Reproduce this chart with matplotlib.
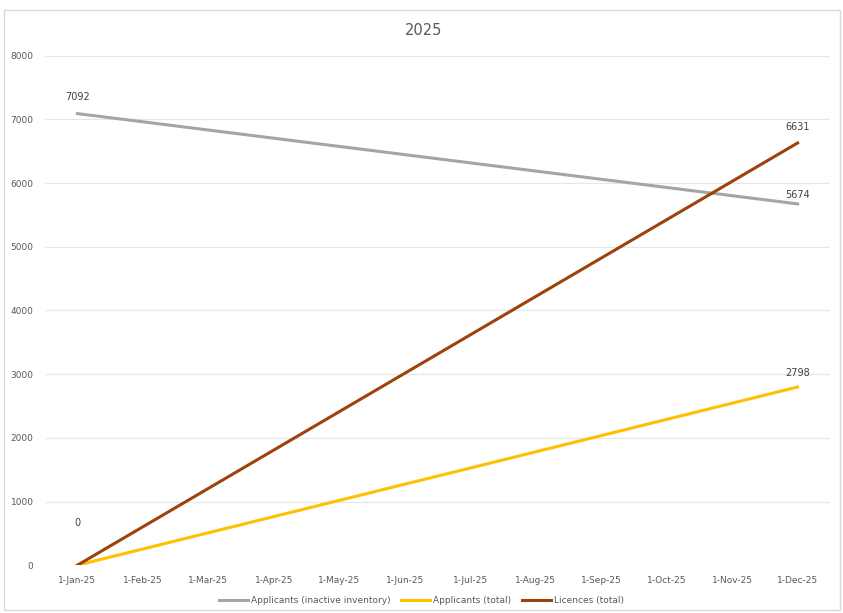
import matplotlib.pyplot as plt
from matplotlib.patches import Rectangle

# month labels along the category axis
months = ['1-Jan-25', '1-Feb-25', '1-Mar-25', '1-Apr-25', '1-May-25', '1-Jun-25',
          '1-Jul-25', '1-Aug-25', '1-Sep-25', '1-Oct-25', '1-Nov-25', '1-Dec-25']

# start (Jan) and end (Dec) values for each series
point_idx = [0, 11]
inactive = [7092, 5674]
applicants = [0, 2798]
licences = [0, 6631]

fig = plt.figure(figsize=(8.43, 6.13), dpi=100)
ax = fig.add_axes([0.053, 0.078, 0.932, 0.831])

# light outer chart border
fig.patches.append(Rectangle((0.005, 0.005), 0.991, 0.978, transform=fig.transFigure,
                             fill=False, edgecolor='#d9d9d9', linewidth=1))

ax.plot(point_idx, inactive, color='#a5a5a5', lw=2.2, label='Applicants (inactive inventory)')
ax.plot(point_idx, applicants, color='#ffc000', lw=2.2, label='Applicants (total)')
ax.plot(point_idx, licences, color='#9e420c', lw=2.2, label='Licences (total)')

lbl = dict(fontsize=7, color='#404040', ha='center', textcoords='offset points')
ax.annotate(str(inactive[0]), (point_idx[0], inactive[0]), xytext=(0, 10), **lbl)
ax.annotate(str(inactive[1]), (point_idx[1], inactive[1]), xytext=(0, 4), **lbl)
ax.annotate(str(licences[1]), (point_idx[1], licences[1]), xytext=(0, 9), **lbl)
ax.annotate(str(applicants[1]), (point_idx[1], applicants[1]), xytext=(0, 8), **lbl)
ax.annotate(str(licences[0]), (point_idx[0], licences[0]), xytext=(0, 28), **lbl)

ax.set_xlim(-0.5, 11.5)
ax.set_ylim(0, 8000)
ax.set_yticks(range(0, 8001, 1000))
ax.set_xticks(range(len(months)))
ax.set_xticklabels(months)
ax.tick_params(axis='both', length=0, labelsize=6.5, labelcolor='#595959')
ax.tick_params(axis='x', pad=8)
ax.tick_params(axis='y', pad=8)
ax.grid(axis='y', color='#e6e6e6', lw=0.9)
ax.set_axisbelow(True)
for s in ax.spines.values():
    s.set_visible(False)

# chart title centred on the whole chart area
fig.text(0.503, 0.95, '2025', fontsize=10.5, color='#595959', ha='center', va='center')

fig.legend(loc='lower center', bbox_to_anchor=(0.5, 0.0), ncol=3, frameon=False,
           fontsize=6.5, labelcolor='#595959', handlelength=3.2, columnspacing=1.2,
           handletextpad=0.3)

fig.savefig('out.png', dpi=100)
